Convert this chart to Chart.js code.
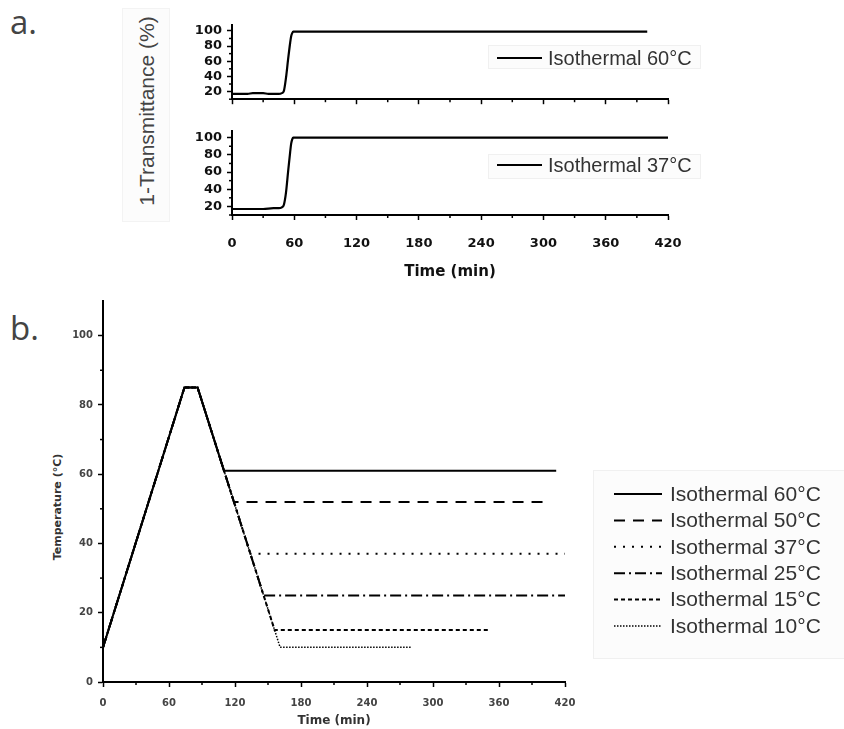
<!DOCTYPE html>
<html>
<head>
<meta charset="utf-8">
<script src="https://cdn.jsdelivr.net/npm/chart.js@4.4.1/dist/chart.umd.min.js"></script>
<style>
  body { margin: 0; background: #fff; width: 844px; height: 729px; position: relative; overflow: hidden; font-family: "Liberation Sans", Arial, sans-serif; }
  canvas { position: absolute; }
  .panel { position: absolute; font-family: "Open Sans", sans-serif; font-size: 33px; color: #444; line-height: 1; }
  .vtitle { position: absolute; white-space: nowrap; transform: translate(-50%, -50%) rotate(-90deg); }
  #ytA { left: 147px; top: 111px; font-size: 21px; color: #444; }
  #ytB { left: 57px; top: 507px; font: bold 11px "DejaVu Sans", sans-serif; color: #333; }
  #ytABox { position: absolute; left: 122px; top: 8px; width: 46px; height: 212px; background: #fcfcfc; border: 1px solid #f3f3f3; }
</style>
</head>
<body>
<div class="panel" style="left:10px; top:5px;">a.</div>
<div class="panel" style="left:10px; top:311px;">b.</div>
<div id="ytABox"></div>
<div id="ytA" class="vtitle">1-Transmittance (%)</div>
<div id="ytB" class="vtitle">Temperature (°C)</div>

<canvas id="chartA1" width="530" height="100" style="left:180px; top:12px;"></canvas>
<canvas id="chartA2" width="530" height="170" style="left:180px; top:118px;"></canvas>
<canvas id="chartB" width="804" height="439" style="left:40px; top:290px;"></canvas>

<script>
// panel a: 1-transmittance vs time
const timeA60 = [0, 5, 10, 15, 20, 25, 30, 35, 40, 45, 48, 50, 52, 54, 56, 57, 58, 59, 60, 120, 240, 400];
const transA60 = [17, 17, 17, 17, 18, 18, 18, 17, 17, 17, 18, 21, 38, 62, 84, 93, 97, 99, 99, 99, 99, 99];
const timeA37 = [0, 10, 20, 30, 40, 45, 48, 50, 52, 54, 56, 57, 58, 59, 60, 120, 240, 420];
const transA37 = [17, 17, 17, 17, 18, 18, 19, 22, 36, 60, 83, 93, 98, 100, 100, 100, 100, 100];

// panel b: temperature programmes
const isoLabels = ['Isothermal 60°C', 'Isothermal 50°C', 'Isothermal 37°C', 'Isothermal 25°C', 'Isothermal 15°C', 'Isothermal 10°C'];
const rampTime = [0, 74, 86];
const rampTemp = [10, 85, 85];
const isoTemp = [61, 52, 37, 25, 15, 10];
const isoStart = [110, 119, 134, 146, 156, 161];
const isoEnd = [412, 404, 420, 420, 350, 280];

const isoDash = [[], [11, 8], [2, 7], [11, 4, 2, 4], [4, 3], [1.5, 1.5]];
const isoWidth = [2, 2, 2, 2, 2, 1.5];

// short ticks between the labelled ones
const minorTicks = {
  id: 'minorTicks',
  afterDraw(chart, args, opts) {
    const ctx = chart.ctx;
    const area = chart.chartArea;
    ctx.save();
    ctx.strokeStyle = '#000';
    ctx.lineWidth = 1.5;
    ['x', 'y'].forEach(id => {
      const o = opts[id];
      if (!o) return;
      const s = chart.scales[id];
      for (let v = s.min; v < s.max; v += o.step) {
        if (v % o.major === 0) continue;
        const p = s.getPixelForValue(v);
        ctx.beginPath();
        if (id === 'x') { ctx.moveTo(p, area.bottom); ctx.lineTo(p, area.bottom + o.len); }
        else { ctx.moveTo(area.left, p); ctx.lineTo(area.left - o.len, p); }
        ctx.stroke();
      }
    });
    ctx.restore();
  }
};

// legend with line samples, placed where the figure has it
const lineLegend = {
  id: 'lineLegend',
  afterDraw(chart, args, o) {
    const ctx = chart.ctx;
    ctx.save();
    if (o.box) {
      ctx.fillStyle = '#fcfcfc';
      ctx.strokeStyle = '#f0f0f0';
      ctx.lineWidth = 1;
      ctx.fillRect(o.box[0], o.box[1], o.box[2], o.box[3]);
      ctx.strokeRect(o.box[0] + 0.5, o.box[1] + 0.5, o.box[2], o.box[3]);
    }
    chart.data.datasets.forEach((ds, i) => {
      const y = o.y + i * (o.row || 0);
      ctx.strokeStyle = ds.borderColor;
      ctx.lineWidth = ds.borderWidth;
      ctx.setLineDash(ds.borderDash || []);
      ctx.beginPath();
      ctx.moveTo(o.x, y);
      ctx.lineTo(o.x + o.sample, y);
      ctx.stroke();
      ctx.setLineDash([]);
      ctx.fillStyle = o.color;
      ctx.font = o.font;
      ctx.textBaseline = 'middle';
      ctx.fillText(ds.label, o.x + o.sample + o.gap, y + 1);
    });
    ctx.restore();
  }
};

const axisLook = {
  grid: { drawOnChartArea: false, drawTicks: true, tickLength: 5, tickWidth: 1.5, tickColor: '#000' },
  border: { display: true, color: '#000', width: 2 }
};

function panelA(id, times, values, label, showX, legendY, box) {
  return new Chart(document.getElementById(id), {
    type: 'line',
    data: {
      datasets: [{
        label: label,
        data: times.map((t, i) => ({ x: t, y: values[i] })),
        borderColor: '#000',
        borderWidth: 2.2,
        pointRadius: 0,
        cubicInterpolationMode: 'monotone'
      }]
    },
    options: {
      responsive: false,
      animation: false,
      layout: { padding: { top: showX ? 11 : 10, right: 42, bottom: 0, left: 0 } },
      scales: {
        x: {
          type: 'linear', min: 0, max: 420,
          ...axisLook,
          ticks: {
            display: showX, stepSize: 60, autoSkip: false, maxRotation: 0, padding: 16,
            color: '#111', font: { family: 'DejaVu Sans', weight: 'bold', size: 13 }
          },
          title: {
            display: showX, text: 'Time (min)', color: '#111',
            font: { family: 'DejaVu Sans', weight: 'bold', size: 15 },
            padding: { top: 0, bottom: 7 }
          },
          afterFit: s => { s.height = showX ? 73 : 6; }
        },
        y: {
          type: 'linear', min: 10, max: 108,
          ...axisLook,
          ticks: {
            stepSize: 20, includeBounds: false, padding: 5,
            color: '#111', font: { family: 'DejaVu Sans', weight: 'bold', size: 13 }
          },
          afterFit: s => { s.width = 52; }
        }
      },
      plugins: {
        legend: { display: false },
        tooltip: { enabled: false },
        minorTicks: { x: { step: 30, major: 60, len: 3 }, y: { step: 10, major: 20, len: 3 } },
        lineLegend: {
          x: 317, y: legendY, sample: 45, gap: 6, box: box,
          font: '20px "Liberation Sans", Arial, sans-serif', color: '#333'
        }
      }
    },
    plugins: [minorTicks, lineLegend]
  });
}

panelA('chartA1', timeA60, transA60, 'Isothermal 60°C', false, 46, [308, 33, 212, 23]);
panelA('chartA2', timeA37, transA37, 'Isothermal 37°C', true, 47, [308, 36, 212, 24]);

new Chart(document.getElementById('chartB'), {
  type: 'line',
  data: {
    datasets: isoLabels.map((label, i) => ({
      label: label,
      data: rampTime.map((t, k) => ({ x: t, y: rampTemp[k] }))
        .concat([{ x: isoStart[i], y: isoTemp[i] }, { x: isoEnd[i], y: isoTemp[i] }]),
      borderColor: '#000',
      borderWidth: isoWidth[i],
      borderDash: isoDash[i],
      pointRadius: 0,
      tension: 0
    })).reverse()
  },
  options: {
    responsive: false,
    animation: false,
    layout: { padding: { top: 7, right: 279, bottom: 0, left: 0 } },
    scales: {
      x: {
        type: 'linear', min: 0, max: 420,
        ...axisLook,
        ticks: {
          stepSize: 60, autoSkip: false, maxRotation: 0, padding: 10,
          color: '#444', font: { family: 'DejaVu Sans', weight: 'bold', size: 10 }
        },
        title: {
          display: true, text: 'Time (min)', color: '#333',
          font: { family: 'DejaVu Sans', weight: 'bold', size: 12 },
          padding: { top: 0, bottom: 1 }
        },
        afterFit: s => { s.height = 47; }
      },
      y: {
        type: 'linear', min: 0, max: 110,
        ...axisLook,
        ticks: {
          stepSize: 20, includeBounds: false, padding: 5,
          color: '#444', font: { family: 'DejaVu Sans', weight: 'bold', size: 10 }
        },
        afterFit: s => { s.width = 63; }
      }
    },
    plugins: {
      legend: { display: false },
      tooltip: { enabled: false },
      minorTicks: { x: { step: 30, major: 60, len: 3 }, y: { step: 10, major: 20, len: 3 } }
    }
  },
  plugins: [minorTicks, {
    id: 'legendB',
    afterDraw(chart) {
      // legend lists the series in their original order (60°C first)
      const saved = chart.data.datasets;
      chart.data.datasets = saved.slice().reverse();
      lineLegend.afterDraw(chart, null, {
        x: 574, y: 204, row: 26.4, sample: 48, gap: 8, box: [553, 180, 260, 188],
        font: '21px "Liberation Sans", Arial, sans-serif', color: '#333'
      });
      chart.data.datasets = saved;
    }
  }]
});
</script>
</body>
</html>
